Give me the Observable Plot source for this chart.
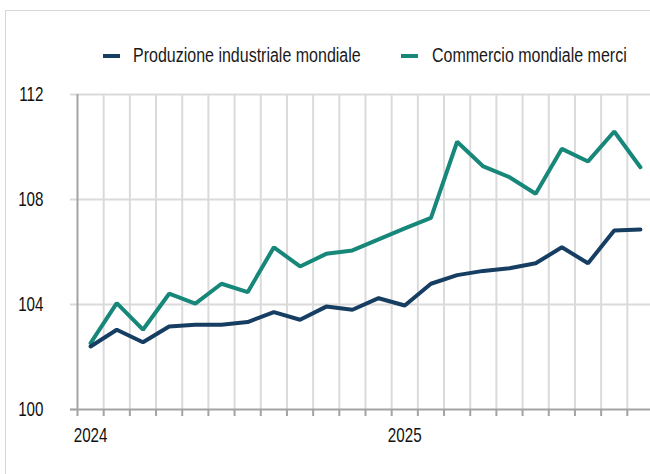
<!DOCTYPE html>
<html>
<head>
<meta charset="utf-8">
<script src="https://cdn.jsdelivr.net/npm/d3@7"></script>
<script src="https://cdn.jsdelivr.net/npm/@observablehq/plot@0.6"></script>
<style>
  html, body { margin: 0; padding: 0; background: #fff; }
  #wrap { position: relative; width: 650px; height: 474px; overflow: hidden; font-family: "Liberation Sans", Arial, sans-serif; }
  #frame { position: absolute; left: 5px; top: 10px; width: 700px; height: 500px; border-left: 1px solid #d6d6d6; border-top: 1px solid #d6d6d6; pointer-events: none; }
  #legend { position: relative; height: 75px; }
  .sw { position: absolute; height: 4px; width: 17px; }
  .lt { position: absolute; font-size: 20px; line-height: 20px; color: #1a1a1a; white-space: nowrap; transform: scaleX(0.8); transform-origin: left center; }
  #chart svg { display: block; }
</style>
</head>
<body>
<div id="wrap">
  <div id="legend"></div>
  <div id="chart"></div>
  <div id="frame"></div>
</div>
<script>
// Months: Jan 2024 .. Oct 2025
const months = ["2024-01","2024-02","2024-03","2024-04","2024-05","2024-06","2024-07","2024-08","2024-09","2024-10","2024-11","2024-12",
                "2025-01","2025-02","2025-03","2025-04","2025-05","2025-06","2025-07","2025-08","2025-09","2025-10"];
const produzione = [102.4, 103.04, 102.56, 103.16, 103.23, 103.23, 103.33, 103.71, 103.42, 103.92, 103.8, 104.24,
                    103.96, 104.79, 105.12, 105.28, 105.38, 105.57, 106.18, 105.57, 106.82, 106.86];
const commercio = [102.53, 104.05, 103.04, 104.41, 104.03, 104.79, 104.47, 106.18, 105.45, 105.93, 106.06, 106.48,
                   106.9, 107.3, 110.2, 109.26, 108.85, 108.22, 109.93, 109.45, 110.59, 109.23];
const yTicks = [100, 104, 108, 112];
const yearLabels = ["2024", "2025"];
const seriesNames = ["Produzione industriale mondiale", "Commercio mondiale merci"];
const seriesColors = ["#163e62", "#168779"];

// derived tables
const idx = months.map((m, i) => i);
const prodData = idx.map(i => ({i, v: produzione[i]}));
const commData = idx.map(i => ({i, v: commercio[i]}));
const boundaries = idx.map(i => i - 0.5);          // month boundaries
const innerBounds = boundaries.slice(1);
const yearIdx = yearLabels.map(y => months.indexOf(y + "-01"));

// legend
const legend = document.getElementById("legend");
const legendPos = [{sw: 103, tx: 133}, {sw: 401, tx: 432}];
seriesNames.forEach((name, k) => {
  const s = document.createElement("div");
  s.className = "sw";
  s.style.left = legendPos[k].sw + "px";
  s.style.top = "54px";
  s.style.background = seriesColors[k];
  legend.appendChild(s);
  const t = document.createElement("div");
  t.className = "lt";
  t.style.left = legendPos[k].tx + "px";
  t.style.top = "45px";
  t.textContent = name;
  legend.appendChild(t);
});

const grid = "#dadada";
const axisCol = "#a3a3a3";

const plot = Plot.plot({
  width: 650,
  height: 399,
  marginTop: 19,
  marginBottom: 65,
  marginLeft: 77,
  marginRight: 0,
  style: {fontFamily: "'Liberation Sans', Arial, sans-serif", fontSize: "20px", color: "#111", background: "white"},
  x: {type: "linear", domain: [-0.5, months.length - 0.5], range: [77, 653], axis: null},
  y: {domain: [100, 112], axis: null},
  marks: [
    Plot.ruleY(yTicks.slice(1), {stroke: grid, strokeWidth: 2}),
    Plot.ruleX(innerBounds, {stroke: grid, strokeWidth: 2}),
    Plot.axisY(yTicks, {label: null, tickSize: 7, tickPadding: 27, stroke: grid, strokeWidth: 2, fill: "#111", fontSize: 20, tickFormat: d => String(d)}),
    Plot.axisY([yTicks[0]], {label: null, tickSize: 7, stroke: axisCol, strokeWidth: 2, tickFormat: () => ""}),
    Plot.axisX(boundaries, {label: null, tickSize: 7, stroke: axisCol, strokeWidth: 2, tickFormat: () => ""}),
    Plot.axisX(yearIdx, {label: null, tickSize: 0, tickPadding: 18, fill: "#111", fontSize: 20, tickFormat: i => months[i].slice(0, 4)}),
    Plot.ruleX([boundaries[0]], {stroke: axisCol, strokeWidth: 2}),
    Plot.ruleY([yTicks[0]], {stroke: axisCol, strokeWidth: 2}),
    Plot.line(commData, {x: "i", y: "v", stroke: seriesColors[1], strokeWidth: 4, strokeLinejoin: "miter"}),
    Plot.line(prodData, {x: "i", y: "v", stroke: seriesColors[0], strokeWidth: 4, strokeLinejoin: "miter"})
  ]
});

// narrow the text horizontally around its anchor to mimic the condensed typeface
plot.querySelectorAll("text").forEach(t => {
  const tr = t.getAttribute("transform");
  if (tr) {
    t.setAttribute("transform", tr + " scale(0.76,1)");
  } else {
    const x = +(t.getAttribute("x") || 0), y = +(t.getAttribute("y") || 0);
    t.removeAttribute("x"); t.removeAttribute("y");
    t.setAttribute("transform", `translate(${x},${y}) scale(0.76,1)`);
  }
});

document.getElementById("chart").appendChild(plot);
</script>
</body>
</html>
